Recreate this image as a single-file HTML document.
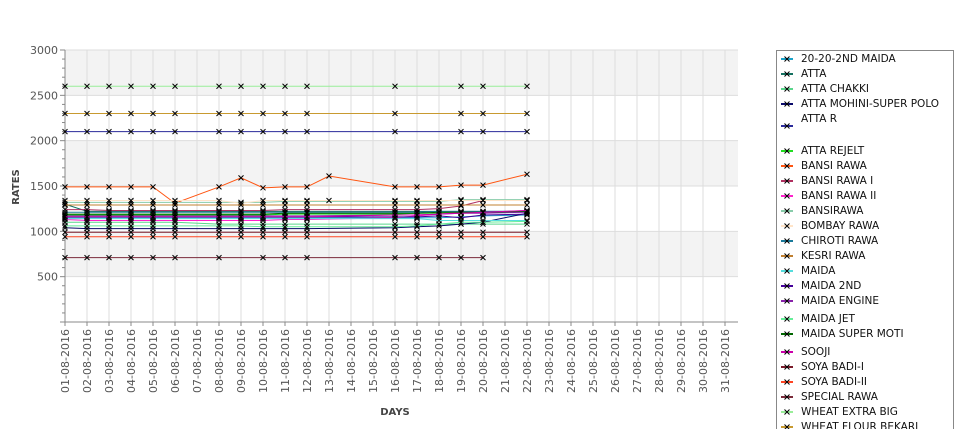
<!DOCTYPE html>
<html><head><meta charset="utf-8"><style>
body{margin:0;background:#fff;width:975px;height:429px;overflow:hidden;font-family:"Liberation Sans","DejaVu Sans",sans-serif}
svg text{font-family:"DejaVu Sans","Liberation Sans",sans-serif}
</style></head><body>
<svg id="chart" width="975" height="429" xmlns="http://www.w3.org/2000/svg"></svg>
<script>
const days = ["01-08-2016","02-08-2016","03-08-2016","04-08-2016","05-08-2016","06-08-2016","07-08-2016","08-08-2016","09-08-2016","10-08-2016","11-08-2016","12-08-2016","13-08-2016","14-08-2016","15-08-2016","16-08-2016","17-08-2016","18-08-2016","19-08-2016","20-08-2016","21-08-2016","22-08-2016","23-08-2016","24-08-2016","25-08-2016","26-08-2016","27-08-2016","28-08-2016","29-08-2016","30-08-2016","31-08-2016"];
const yTicks = [500,1000,1500,2000,2500,3000];
const seriesNames = ["20-20-2ND MAIDA","ATTA","ATTA CHAKKI","ATTA MOHINI-SUPER POLO","ATTA R","ATTA REJELT","BANSI RAWA","BANSI RAWA I","BANSI RAWA II","BANSIRAWA","BOMBAY RAWA","CHIROTI RAWA","KESRI RAWA","MAIDA","MAIDA 2ND","MAIDA ENGINE","MAIDA JET","MAIDA SUPER MOTI","SOOJI","SOYA BADI-I","SOYA BADI-II","SPECIAL RAWA","WHEAT EXTRA BIG","WHEAT FLOUR BEKARI"];
const seriesColors = ["#1ca3c9","#147060","#5ad68c","#0a0a6a","#2a2a9a","#22dd22","#ff5511","#b03060","#ff22cc","#88ccaa","#ffe4c8","#1a7a9a","#c08030","#55dddd","#440099","#8822aa","#66ee99","#006600","#cc00aa","#7a1a2a","#ff4422","#7a2a3a","#99ee99","#c89a30"];
const D = [1,2,3,4,5,6,8,9,10,11,12,16,19,20,22];
const values = [
 [1150,1150,1150,1150,1150,1150,null,1150,1150,1150,1150,1150,null,null,null,1150,1150,1150,1160,1170,null,1180],
 [1300,1220,1220,1220,1220,1220,null,1220,1220,1220,1220,1220,null,null,null,1220,1220,1220,1220,1220,null,1220],
 [1100,1100,1100,1100,1100,1100,null,1080,1080,1080,1080,1080,null,null,null,1080,1080,1080,1080,1080,null,1080],
 [1040,1030,1030,1030,1030,1030,null,1030,1030,1030,1030,1030,null,null,null,1040,1050,1060,1080,1100,null,1200],
 [2100,2100,2100,2100,2100,2100,null,2100,2100,2100,2100,2100,null,null,null,2100,null,null,2100,2100,null,2100],
 [1180,1180,1180,1180,1180,1180,null,1180,1180,1180,1190,1190,null,null,null,1190,1200,1200,1210,1210,null,1220],
 [1490,1490,1490,1490,1490,1310,null,1490,1590,1480,1490,1490,1610,null,null,1490,1490,1490,1510,1510,null,1630],
 [1240,1240,1230,1230,1230,1230,null,1230,1230,1230,1240,1240,null,null,null,1240,1240,1250,1280,1340,null,1340],
 [1130,1120,1120,1120,1120,1120,null,1120,1120,1120,1130,1130,null,null,null,1150,1170,1190,1210,1210,null,1230],
 [1320,1320,1320,1320,1320,1320,null,1320,1320,1320,1330,1330,null,null,null,1330,1330,1330,1350,1350,null,1350],
 [1340,1340,1340,1340,1340,1340,null,1340,1310,1340,1340,1340,1340,null,null,1340,1340,1340,1340,1340,null,1340],
 [1210,1210,1210,1210,1210,1210,null,1210,1210,1210,1210,1210,null,null,null,1210,1210,1220,1220,1220,null,1220],
 [1290,1290,1290,1290,1290,1290,null,1290,1290,1290,1290,1290,null,null,null,1290,1290,1290,1290,1290,null,1290],
 [1140,1140,1140,1140,1140,1140,null,1140,1140,1140,1140,1140,null,null,null,1140,1140,1120,1120,1120,null,1120],
 [1160,1160,1160,1160,1160,1160,null,1160,1160,1160,1160,1160,null,null,null,1160,1160,1170,1150,1180,null,1190],
 [1170,1170,1170,1170,1170,1170,null,1170,1170,1170,1170,1170,null,null,null,1180,1180,1190,1200,1200,null,1210],
 [1060,1060,1060,1060,1060,1060,null,1060,1060,1050,1050,1050,null,null,null,1050,1060,1080,1100,1100,null,1110],
 [1190,1190,1190,1190,1190,1190,null,1190,1190,1190,1200,1200,null,null,null,1200,1200,1210,1210,1210,null,1220],
 [1160,1160,1160,1160,1160,1160,null,1160,1160,1160,1160,1160,null,null,null,1180,1180,1190,1200,1210,null,1230],
 [990,990,990,990,990,990,null,990,990,990,990,990,null,null,null,990,990,990,990,990,null,990],
 [940,940,940,940,940,940,null,940,940,940,940,940,null,null,null,940,940,940,940,940,null,940],
 [710,710,710,710,710,710,null,710,null,710,710,710,null,null,null,710,710,710,710,710,null,null],
 [2600,2600,2600,2600,2600,2600,null,2600,2600,2600,2600,2600,null,null,null,2600,null,null,2600,2600,null,2600],
 [2300,2300,2300,2300,2300,2300,null,2300,2300,2300,2300,2300,null,null,null,2300,null,null,2300,2300,null,2300]
];
const NS="http://www.w3.org/2000/svg";
const svg=document.getElementById('chart');
const L=65,R=738,T=50,B=322;
const xScale=i=>L+i*22;
const yScale=v=>B-(v/3000)*(B-T);
function el(tag,attrs,parent){const e=document.createElementNS(NS,tag);for(const k in attrs)e.setAttribute(k,attrs[k]);(parent||svg).appendChild(e);return e;}
// bands
for(let i=0;i<6;i++){
 const v0=i*500,v1=v0+500;
 const b=el('rect',{x:L,y:yScale(v1),width:R-L,height:yScale(v0)-yScale(v1),fill:(i%2==0)?'#ffffff':'#f3f3f3'});
 
 
}
// gridlines
yTicks.forEach(v=>{const g=el('line',{x1:L,x2:R,y1:yScale(v),y2:yScale(v),stroke:'#dddddd','stroke-width':1});
 });
days.forEach((d,i)=>{const g=el('line',{x1:xScale(i),x2:xScale(i),y1:T,y2:B,stroke:'#dddddd','stroke-width':1});
 });
// axes
const ya=el('line',{x1:L,x2:L,y1:T,y2:B,stroke:'#888','stroke-width':1});

const xa=el('line',{x1:L-4,x2:R,y1:B,y2:B,stroke:'#888','stroke-width':1});

for(let v=0;v<=3000;v+=100){el('line',{x1:L-(v%500==0?5:3),x2:L,y1:yScale(v),y2:yScale(v),stroke:'#888'});}
yTicks.forEach(v=>{const t=el('text',{x:L-7,y:yScale(v)+4,'text-anchor':'end','font-size':11,fill:'#555'});t.textContent=v;
 });
days.forEach((d,i)=>{el('line',{x1:xScale(i),x2:xScale(i),y1:B,y2:B+4,stroke:'#888'});
 const t=el('text',{x:0,y:0,'text-anchor':'end','font-size':11,fill:'#555',transform:`translate(${xScale(i)+4},${B+7}) rotate(-90)`});t.textContent=d;
 });
const xt=el('text',{x:395,y:415,'text-anchor':'middle','font-size':10,'font-weight':'bold',fill:'#444'});xt.textContent='DAYS';

const yt=el('text',{x:0,y:0,'text-anchor':'middle','font-size':10,'font-weight':'bold',fill:'#444',transform:'translate(19,187) rotate(-90)'});yt.textContent='RATES';

// series
function mark(x,y,parent,s){const g=el('path',{d:`M${x-2.5},${y-2.5}L${x+2.5},${y+2.5}M${x-2.5},${y+2.5}L${x+2.5},${y-2.5}`,stroke:'#000','stroke-width':1},parent);
 }
values.forEach((vals,s)=>{
 const g=el('g',{});
 
 
 const pts=[];vals.forEach((v,i)=>{if(v!=null)pts.push([xScale(i),yScale(v)]);});
 const p=el('polyline',{points:pts.map(p=>p.join(',')).join(' '),fill:'none',stroke:seriesColors[s],'stroke-width':1},g);
 
 pts.forEach(pt=>mark(pt[0],pt[1],g,s));
});
// legend
const lg=el('g',{});
const lb=el('rect',{x:776.5,y:50.5,width:177,height:400,fill:'#fff',stroke:'#888'},lg);

const ly=[58,73,88,103,118,150,165,180,195,210,225,240,255,270,285,300,318,333,351,366,381,396,411,426];
seriesNames.forEach((n,i)=>{
 const e=el('g',{},lg);
 const my=(i==4)?125:ly[i];
 el('line',{x1:781,x2:793,y1:my+1,y2:my+1,stroke:seriesColors[i],'stroke-width':2},e);
 mark(787,my+1,e,i);
 const t=el('text',{x:801,y:ly[i]+4,'font-size':10.5,fill:'#111'},e);t.textContent=n;
});
</script>
</body></html>
